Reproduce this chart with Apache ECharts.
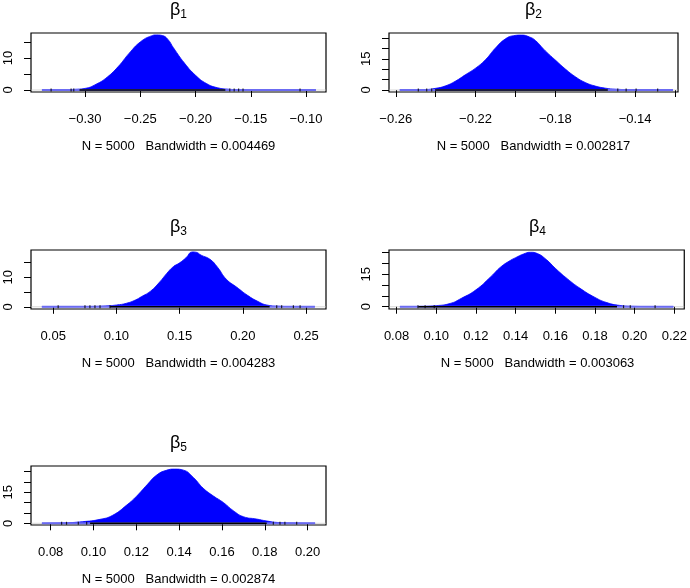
<!DOCTYPE html>
<html>
<head>
<meta charset="utf-8">
<script src="https://cdn.jsdelivr.net/npm/echarts@6/dist/echarts.min.js"></script>
<style>
html, body { margin: 0; background: #fff; }
#main { width: 690px; height: 588px; }
</style>
</head>
<body>
<div id="main"></div>
<script>
// posterior density of each beta (x, density)
var b1X = [-0.339, -0.32, -0.31, -0.30, -0.29, -0.28, -0.27, -0.26, -0.25, -0.24, -0.235, -0.23, -0.225, -0.22, -0.21, -0.20, -0.19, -0.18, -0.17, -0.16, -0.14, -0.12, -0.091];
var b1Y = [0, 0.05, 0.2, 0.5, 1.8, 4.0, 7.3, 11.5, 15.0, 16.9, 17.2, 17.0, 15.8, 13.2, 8.4, 4.6, 2.0, 0.7, 0.25, 0.08, 0.02, 0.01, 0];

var b2X = [-0.258, -0.25, -0.245, -0.24, -0.235, -0.23, -0.225, -0.22, -0.215, -0.21, -0.205, -0.201, -0.197, -0.193, -0.19, -0.185, -0.18, -0.175, -0.17, -0.165, -0.16, -0.155, -0.15, -0.14, -0.13, -0.121];
var b2Y = [0, 0.05, 0.2, 0.8, 2.0, 4.3, 7.4, 10.5, 14.6, 20.2, 24.6, 26.1, 26.4, 25.5, 23.8, 18.8, 14.4, 10.1, 6.4, 3.6, 1.9, 0.9, 0.4, 0.1, 0.03, 0];

var b3X = [0.041, 0.06, 0.08, 0.09, 0.10, 0.108, 0.115, 0.12, 0.127, 0.134, 0.14, 0.145, 0.15, 0.155, 0.16, 0.163, 0.167, 0.174, 0.18, 0.187, 0.195, 0.204, 0.212, 0.219, 0.23, 0.24, 0.257];
var b3Y = [0, 0.02, 0.1, 0.25, 0.6, 1.2, 2.3, 3.5, 5.3, 8.3, 11.4, 13.6, 14.9, 16.6, 18.6, 18.5, 17.5, 16.1, 13.4, 9.3, 6.7, 3.8, 1.8, 0.6, 0.15, 0.05, 0];

var b4X = [0.0817, 0.09, 0.10, 0.107, 0.1125, 0.12, 0.1275, 0.1325, 0.1375, 0.14, 0.144, 0.1475, 0.151, 0.1555, 0.16, 0.166, 0.1725, 0.18, 0.186, 0.1925, 0.20, 0.21, 0.2195];
var b4Y = [0, 0.1, 0.5, 1.5, 3.8, 7.8, 13.9, 18.4, 21.5, 22.7, 24.4, 25.2, 24.6, 21.8, 17.8, 13.0, 8.5, 4.3, 1.9, 0.6, 0.15, 0.03, 0];

var b5X = [0.0759, 0.085, 0.095, 0.103, 0.109, 0.1155, 0.12, 0.125, 0.1295, 0.134, 0.138, 0.142, 0.1466, 0.1513, 0.156, 0.1606, 0.1653, 0.17, 0.176, 0.181, 0.186, 0.195, 0.2035];
var b5Y = [0, 0.15, 0.8, 1.9, 3.9, 8.8, 13.0, 18.6, 23.3, 25.6, 26.2, 25.7, 22.2, 16.9, 13.2, 10.1, 6.1, 3.2, 2.1, 1.1, 0.4, 0.1, 0];

// rug: dense span of draws plus the scattered tail draws
var b1RugSpan = [-0.305, -0.173];
var b1RugTail = [-0.3307, -0.3126, -0.3102, -0.169, -0.165, -0.161, -0.157, -0.1054];
var b2RugSpan = [-0.2403, -0.1537];
var b2RugTail = [-0.2487, -0.2445, -0.242, -0.1487, -0.1445, -0.1395, -0.1287];
var b3RugSpan = [0.095, 0.2212];
var b3RugTail = [0.0539, 0.0751, 0.079, 0.083, 0.087, 0.0949, 0.2268, 0.2307, 0.24, 0.2453];
var b4RugSpan = [0.091, 0.1911];
var b4RugTail = [0.0908, 0.0944, 0.099, 0.1944, 0.1978, 0.2103];
var b5RugSpan = [0.0984, 0.1809];
var b5RugTail = [0.0851, 0.0874, 0.0929, 0.0968, 0.184, 0.1871, 0.1894, 0.1949];

// axis ticks and the labels R kept
var b1XTicks = [-0.30, -0.25, -0.20, -0.15, -0.10];
var b1XLabels = [-0.30, -0.25, -0.20, -0.15, -0.10];
var b2XTicks = [-0.26, -0.24, -0.22, -0.20, -0.18, -0.16, -0.14, -0.12];
var b2XLabels = [-0.26, -0.22, -0.18, -0.14];
var b3XTicks = [0.05, 0.10, 0.15, 0.20, 0.25];
var b3XLabels = [0.05, 0.10, 0.15, 0.20, 0.25];
var b4XTicks = [0.08, 0.10, 0.12, 0.14, 0.16, 0.18, 0.20, 0.22];
var b4XLabels = [0.08, 0.10, 0.12, 0.14, 0.16, 0.18, 0.20, 0.22];
var b5XTicks = [0.08, 0.10, 0.12, 0.14, 0.16, 0.18, 0.20];
var b5XLabels = [0.08, 0.10, 0.12, 0.14, 0.16, 0.18, 0.20];

var yTicksSmall = [0, 5, 10, 15];
var yLabelsSmall = [0, 10];
var yTicksBig = [0, 5, 10, 15, 20, 25];
var yLabelsBig = [0, 15];

var subscripts = ['1', '2', '3', '4', '5'];
var sampleN = 5000;
var bandwidths = ['0.004469', '0.002817', '0.004283', '0.003063', '0.002874'];

var xs = [b1X, b2X, b3X, b4X, b5X];
var ys = [b1Y, b2Y, b3Y, b4Y, b5Y];
var rugSpans = [b1RugSpan, b2RugSpan, b3RugSpan, b4RugSpan, b5RugSpan];
var rugTails = [b1RugTail, b2RugTail, b3RugTail, b4RugTail, b5RugTail];
var xTicks = [b1XTicks, b2XTicks, b3XTicks, b4XTicks, b5XTicks];
var xLabels = [b1XLabels, b2XLabels, b3XLabels, b4XLabels, b5XLabels];
var yTicks = [yTicksSmall, yTicksBig, yTicksSmall, yTicksBig, yTicksBig];
var yLabels = [yLabelsSmall, yLabelsBig, yLabelsSmall, yLabelsBig, yLabelsBig];

// plot boxes [left, top, width, height] and the axis ranges they show
var boxes = [[31, 33, 295, 59], [389, 33, 289, 59], [31, 250, 295, 59], [389, 250, 297, 59], [31, 466, 295, 59]];
var xRanges = [[-0.3489, -0.0819], [-0.2634, -0.1185], [0.0324, 0.2658], [0.0762, 0.2250], [0.0708, 0.2086]];
var yRanges = [[-0.625, 17.8], [-0.96, 27.4], [-0.75, 19.25], [-1.06, 26.25], [-0.82, 27.7]];

var font = '"Liberation Sans", Arial, Helvetica, sans-serif';

function fmt(v, d) {
  return v.toFixed(d).replace('-', '\u2212');
}

var chart = echarts.init(document.getElementById('main'));
var grids = [], xAxes = [], yAxes = [], series = [], graphics = [];

for (var i = 0; i < 5; i++) {
  var b = boxes[i];
  grids.push({
    left: b[0], top: b[1], width: b[2], height: b[3],
    show: true, borderColor: '#000', borderWidth: 1.2, backgroundColor: 'transparent'
  });
  xAxes.push({
    gridIndex: i, type: 'value', min: xRanges[i][0], max: xRanges[i][1],
    axisLine: { show: false },
    splitLine: { show: false },
    axisTick: { show: true, inside: false, length: 7, customValues: xTicks[i], lineStyle: { color: '#000', width: 1 } },
    axisLabel: {
      customValues: xLabels[i], margin: 21, color: '#000', fontSize: 13, fontFamily: font,
      formatter: function (v) { return fmt(v, 2); }
    }
  });
  yAxes.push({
    gridIndex: i, type: 'value', min: yRanges[i][0], max: yRanges[i][1],
    axisLine: { show: false },
    splitLine: { show: false },
    axisTick: { show: true, inside: false, length: 7, customValues: yTicks[i], lineStyle: { color: '#000', width: 1 } },
    axisLabel: {
      customValues: yLabels[i], rotate: 90, margin: 16, color: '#000', fontSize: 13, fontFamily: font,
      formatter: function (v) { return fmt(v, 0); }
    }
  });

  var pts = xs[i].map(function (x, k) { return [x, ys[i][k]]; });
  // grey zero line across the box
  series.push({
    type: 'line', xAxisIndex: i, yAxisIndex: i, silent: true, symbol: 'none',
    lineStyle: { color: '#bebebe', width: 0.6 },
    data: [[xRanges[i][0], 0], [xRanges[i][1], 0]], z: 1
  });
  series.push({
    type: 'line', xAxisIndex: i, yAxisIndex: i, silent: true, symbol: 'none',
    smooth: 0.5,
    lineStyle: { color: '#0000ff', width: 0.8 },
    areaStyle: { color: '#0000ff', opacity: 1 },
    data: pts, z: 2
  });
  // density line along the baseline over the sample range
  series.push({
    type: 'line', xAxisIndex: i, yAxisIndex: i, silent: true, symbol: 'none',
    lineStyle: { color: '#6b6bf2', width: 2 },
    data: [[xs[i][0], 0], [xs[i][xs[i].length - 1], 0]], z: 3
  });
  series.push({
    type: 'line', xAxisIndex: i, yAxisIndex: i, silent: true, symbol: 'none',
    lineStyle: { color: '#000', width: 1.6 },
    data: [[rugSpans[i][0], 0], [rugSpans[i][1], 0]], z: 4
  });
  series.push({
    type: 'scatter', xAxisIndex: i, yAxisIndex: i, silent: true,
    symbol: 'rect', symbolSize: [1.2, 3], itemStyle: { color: '#000' },
    data: rugTails[i].map(function (x) { return [x, 0]; }), z: 5
  });

  var cx = b[0] + b[2] / 2;
  graphics.push({
    type: 'text', x: cx, y: b[1] - 21,
    style: {
      text: '{g|\u03b2}{s|' + subscripts[i] + '}',
      align: 'center', verticalAlign: 'middle',
      rich: {
        g: { fontSize: 18, fontFamily: font, fill: '#000', padding: [0, 0, 4, 0] },
        s: { fontSize: 12, fontFamily: font, fill: '#000', padding: [6, 0, 0, 0] }
      }
    }
  });
  graphics.push({
    type: 'text', x: cx, y: b[1] + b[3] + 54,
    style: {
      text: 'N = ' + sampleN + '   Bandwidth = ' + bandwidths[i],
      align: 'center', verticalAlign: 'middle',
      font: '13px ' + font, fill: '#000'
    }
  });
}

chart.setOption({
  animation: false,
  backgroundColor: '#fff',
  grid: grids,
  xAxis: xAxes,
  yAxis: yAxes,
  series: series,
  graphic: graphics
});
</script>
</body>
</html>
